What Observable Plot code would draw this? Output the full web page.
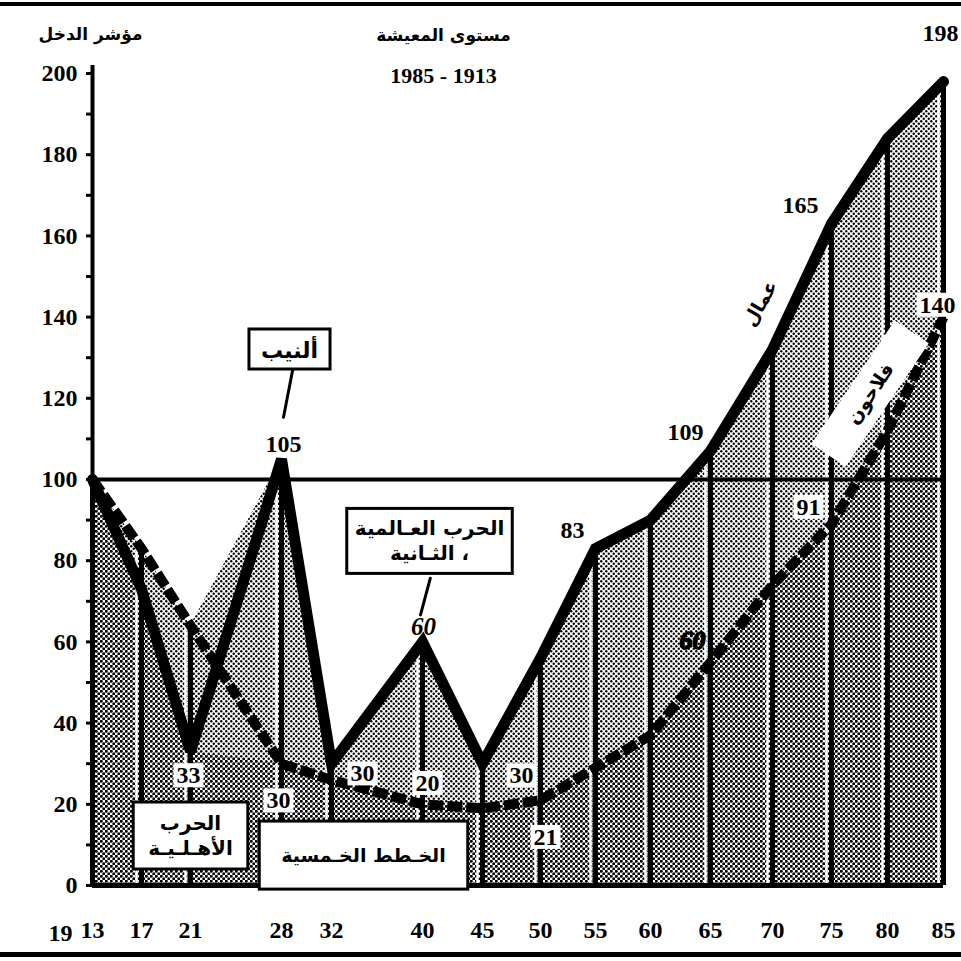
<!DOCTYPE html>
<html>
<head>
<meta charset="utf-8">
<script src="https://cdn.jsdelivr.net/npm/d3@7"></script>
<script src="https://cdn.jsdelivr.net/npm/@observablehq/plot@0.6"></script>
<style>
html, body { margin: 0; padding: 0; background: #fff; overflow: hidden; }
#wrap { position: relative; width: 961px; height: 961px; overflow: hidden; }
#wrap .rule { position: absolute; left: 0; width: 961px; background: #000; z-index: 2; }
#wrap svg { display: block; }
</style>
</head>
<body>
<div id="wrap">
  <div class="rule" style="top:2px;height:4px"></div>
  <div class="rule" style="top:952px;height:5px"></div>
</div>
<script>
// ---------- data ----------
const years    = [1913, 1917, 1921, 1928, 1932, 1940, 1945, 1950, 1955, 1960, 1965, 1970, 1975, 1980, 1985];
const workers  = [100,   73,   33,  105,   30,   60,   30,   56,   83,   90,  107,  132,  163,  184,  198];
const peasants = [100,   83,   64,   30,   26,   20,   19,   21,   29,   37,   55,   74,   89,  112,  140];
const yTicks   = [0, 10, 20, 30, 40, 50, 60, 70, 80, 90, 100, 110, 120, 130, 140, 150, 160, 170, 180, 190, 200];
const centuryPrefix = "19";
const titleText    = "مستوى المعيشة";
const subtitleText = "1985 - 1913";
const yLabelText   = "مؤشر الدخل";
const workersName  = "عمال";
const peasantsName = "فلاحون";
const noteNEP   = "ألنيب";
const noteWW2   = "الحرب العـالمية\nالثـانية ،";
const noteCivil = "الحرب\nالأهـلـيـة";
const notePlans = "الخـطط الخـمسية";

// ---------- build ----------
const rows = years.map((year, i) => ({year, w: workers[i], p: peasants[i]}));
const val = (s, y) => rows.find(r => r.year === y)[s];

const NUM = {fontFamily: "Liberation Serif, serif", fontWeight: "bold", fontSize: 24, fill: "black"};
const AR  = {fontFamily: "DejaVu Sans, sans-serif", fontWeight: "bold", fill: "black"};

const lineShape = {draw(ctx, l) { ctx.moveTo(0, 0); ctx.lineTo(0, -l); }};

function num(series, year, text, dx, dy, cls, extra = {}) {
  return Plot.text([{year, v: val(series, year), text}], {
    x: "year", y: "v", text: "text", dx, dy, textAnchor: "middle", lineAnchor: "middle",
    ...NUM, className: cls, ...extra
  });
}
function note(text, year, v, dx, dy, cls, size) {
  return Plot.text([{year, v, text}], {
    x: "year", y: "v", text: "text", dx, dy, textAnchor: "middle", lineAnchor: "middle",
    lineHeight: 1.25, ...AR, fontSize: size, className: cls
  });
}
function leader(year, v, dx, dy, length, rotate) {
  return Plot.vector([{year, v}], {
    x: "year", y: "v", dx, dy, length, rotate, anchor: "start", shape: lineShape,
    stroke: "black", strokeWidth: 3, fill: "none"
  });
}

const chart = Plot.plot({
  width: 961, height: 961,
  marginLeft: 92, marginRight: 18, marginTop: 73, marginBottom: 76,
  style: {background: "white", fontFamily: "Liberation Serif, serif"},
  x: {type: "linear", domain: years, range: [92, 141, 190, 281, 331, 422, 482, 540, 595, 650, 710, 772, 831, 887, 943], label: null},
  y: {domain: [0, 200], label: null},
  marks: [
    // shaded areas
    Plot.areaY(rows, {x: "year", y: d => Math.max(d.w, d.p), fill: "url(#htLight)"}),
    Plot.areaY(rows, {x: "year", y: d => Math.min(d.w, d.p), fill: "url(#htDark)"}),
    // white slivers + vertical year rules
    Plot.ruleX(rows.filter(d => d.year > 1913), {x: "year", y1: 0, y2: d => Math.max(d.w, d.p), stroke: "white", strokeWidth: 2.5, dx: -5}),
    Plot.ruleX(rows, {x: "year", y1: 0, y2: d => Math.max(d.w, d.p), stroke: "black", strokeWidth: 5}),
    // reference line at 100 and baseline
    Plot.ruleY([100], {stroke: "black", strokeWidth: 4}),
    Plot.ruleY([0], {stroke: "black", strokeWidth: 5}),
    // y axis line
    Plot.ruleX([1913], {y1: 0, y2: 202, stroke: "black", strokeWidth: 4}),
    Plot.axisY({ticks: yTicks, tickSize: 6, tickPadding: 9, strokeWidth: 3,
      tickFormat: d => d % 20 ? "" : String(d), ...NUM}),
    Plot.axisX({ticks: years, tickSize: 0, tickPadding: 35,
      tickFormat: d => String(d).slice(2), ...NUM}),
    Plot.text([centuryPrefix], {frameAnchor: "bottom-left", dx: -32, dy: 48, textAnchor: "middle", lineAnchor: "middle", ...NUM}),
    // series lines
    Plot.line(rows, {x: "year", y: "p", stroke: "black", strokeWidth: 10, strokeDasharray: "15,4", strokeLinejoin: "round", strokeLinecap: "butt"}),
    Plot.line(rows, {x: "year", y: "w", stroke: "black", strokeWidth: 11, strokeLinejoin: "miter", strokeMiterlimit: 3}),
    // titles
    Plot.text([titleText], {frameAnchor: "top-left", dx: 351, dy: -38, textAnchor: "middle", lineAnchor: "middle", ...AR, fontSize: 17}),
    Plot.text([subtitleText], {frameAnchor: "top-left", dx: 351, dy: 2, textAnchor: "middle", lineAnchor: "middle", ...NUM, fontSize: 22}),
    Plot.text([yLabelText], {frameAnchor: "top-left", dx: -2, dy: -39, textAnchor: "middle", lineAnchor: "middle", ...AR, fontSize: 17}),
    // value labels: workers
    num("w", 1928, "105", 2, -15),
    num("w", 1940, "60", 1, -15, null, {fontStyle: "italic", fontSize: 25}),
    num("w", 1955, "83", -23, -18),
    num("w", 1965, "109", -25, -19),
    num("w", 1975, "165", -31, -18),
    num("w", 1985, "198", -3, -48),
    num("w", 1921, "33", -2, 24, "wbox"),
    num("w", 1932, "30", 31, 10, "wbox"),
    num("w", 1945, "30", 39, 12, "wbox"),
    // value labels: peasants
    num("p", 1928, "30", -3, 37, "wbox"),
    num("p", 1940, "20", 5, -21, "wbox"),
    num("p", 1950, "21", 5, 37, "wbox"),
    num("p", 1965, "60", -18, -22, null, {fontSize: 26, fontStyle: "italic", stroke: "black", strokeWidth: 1.5}),
    num("p", 1975, "91", -23, -17, "wbox"),
    num("p", 1985, "140", -6, -12, "wbox"),
    // series names
    Plot.text([{year: 1970, v: val("w", 1970)}], {x: "year", y: "v", text: () => workersName, dx: -12, dy: -46, rotate: -60, textAnchor: "middle", lineAnchor: "middle", ...AR, fontSize: 19}),
    Plot.text([{year: 1980, v: val("p", 1980)}], {x: "year", y: "v", text: () => peasantsName, dx: -17, dy: -37, rotate: -56, textAnchor: "middle", lineAnchor: "middle", ...AR, fontSize: 19, className: "band"}),
    // annotations
    leader(1928, 105, 2, -42, 48, 11),
    note(noteNEP, 1928, 105, 8, -110, "bNEP", 22),
    leader(1940, 60, -2, -27, 38, 15),
    note(noteWW2, 1940, 60, 7, -102, "bWW2", 20),
    note(noteCivil, 1921, 33, 0, 83, "bCivil", 20),
    note(notePlans, 1932, 0, 32, -31, "bPlans", 19)
  ]
});

document.getElementById("wrap").appendChild(chart);

// patterns
const svg = d3.select(chart);
const defs = svg.insert("defs", ":first-child");
function pattern(id, r) {
  const p = defs.append("pattern").attr("id", id).attr("width", 5).attr("height", 5).attr("patternUnits", "userSpaceOnUse");
  p.append("rect").attr("width", 5).attr("height", 5).attr("fill", "white");
  p.append("circle").attr("cx", 1.25).attr("cy", 1.25).attr("r", r).attr("fill", "black");
  p.append("circle").attr("cx", 3.75).attr("cy", 3.75).attr("r", r).attr("fill", "black");
}
pattern("htLight", 1.2);
pattern("htDark", 1.5);

// boxes behind texts
function boxify(sel, px, py, stroke) {
  chart.querySelectorAll(sel + " text").forEach(t => {
    const b = t.getBBox();
    const r = document.createElementNS("http://www.w3.org/2000/svg", "rect");
    r.setAttribute("x", b.x - px);
    r.setAttribute("y", b.y - py);
    r.setAttribute("width", b.width + 2 * px);
    r.setAttribute("height", b.height + 2 * py);
    r.setAttribute("fill", "white");
    r.setAttribute("stroke", stroke ? "black" : "none");
    r.setAttribute("stroke-width", stroke ? 3 : 0);
    const tr = t.getAttribute("transform");
    if (tr) r.setAttribute("transform", tr);
    t.parentNode.insertBefore(r, t);
  });
}
boxify(".wbox", 3, -1, false);
boxify(".band", 40, 9, false);
boxify(".bNEP", 12, 6, true);
boxify(".bWW2", 8, 8, true);
boxify(".bCivil", 15, 9, true);
boxify(".bPlans", 22, 23, true);
</script>
</body>
</html>
